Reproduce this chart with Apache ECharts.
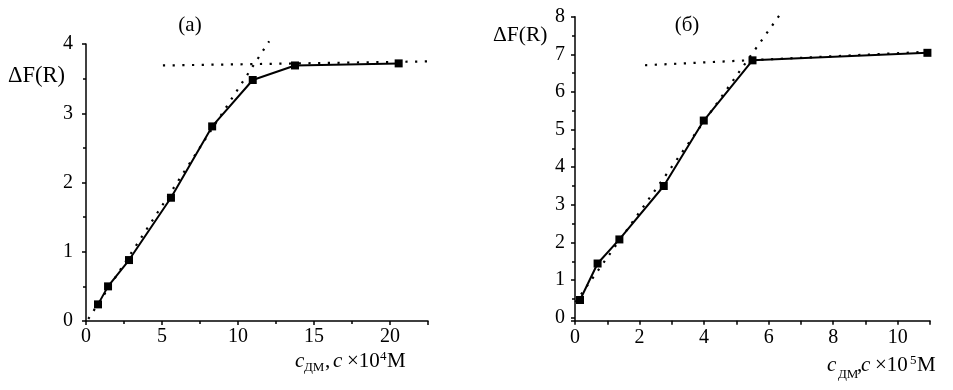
<!DOCTYPE html>
<html>
<head>
<meta charset="utf-8">
<script src="https://cdn.jsdelivr.net/npm/echarts@6/dist/echarts.min.js"></script>
<style>html,body{margin:0;padding:0;background:#fff}#c{width:953px;height:390px}</style>
</head>
<body>
<div id="c"></div>
<script>
// Panel (a)
var xA = [0.79, 1.45, 2.83, 5.59, 8.30, 10.97, 13.75, 20.57];
var yA = [0.24, 0.50, 0.88, 1.78, 2.81, 3.48, 3.69, 3.72];
var fitA1 = [[0.15, 0.03], [12.05, 4.04]];
var fitA2 = [[5.06, 3.69], [22.85, 3.75]];
// Panel (б)
var xB = [0.155, 0.70, 1.375, 2.75, 3.99, 5.50, 10.92];
var yB = [0.47, 1.44, 2.08, 3.50, 5.24, 6.84, 7.04];
var fitB1 = [[-0.16, 0.20], [6.42, 8.14]];
var fitB2 = [[2.17, 6.71], [11.22, 7.08]];
// Axis ranges / ticks
var axA = {xmin: 0, xmax: 22.5, xstep: 5, ymin: 0, ymax: 4, ystep: 1};
var axB = {xmin: 0, xmax: 11, xstep: 1, ymin: -0.08, ymax: 8};
var titles = ['(a)', '(б)'];
var yName = 'ΔF(R)';
var xNameA = ['c', 'ДМ', ',', 'c', '×10', '4', 'M'];
var xNameB = ['c', 'ДМ', ',', 'c', '×10', '5', 'M'];

var FONT = 'Liberation Serif, DejaVu Serif, serif';
function zip(xs, ys) { return xs.map(function (x, i) { return [x, ys[i]]; }); }

var axisLine = {show: true, onZero: false, lineStyle: {color: '#000', width: 1.5}};
var tick = {show: true, inside: false, length: 4, lineStyle: {color: '#000', width: 1.5}};
var minor = {show: true, splitNumber: 2, length: 3, lineStyle: {color: '#000', width: 1.5}};

var dataStyle = {type: 'line', symbol: 'rect', symbolSize: 8, clip: false,
  itemStyle: {color: '#000'}, lineStyle: {color: '#000', width: 2}, z: 3, animation: false};
var dotStyle = {type: 'line', symbol: 'none', clip: false,
  lineStyle: {color: '#000', width: 2.2, type: [2.2, 7.5], cap: 'butt'}, z: 2, animation: false};

// Pieces of the axis-name text: [x, yMiddle, size, italic]
var layA = [[295, 361, 21, 1], [304, 367.5, 13, 0], [325, 361, 21, 0], [333, 361, 21, 1], [347, 361, 21, 0], [380, 356.5, 13, 0], [387, 361, 21, 0]];
var layB = [[827, 365, 21, 1], [838, 375, 13, 0], [857, 365, 21, 0], [861, 365, 21, 1], [875, 365, 21, 0], [910, 360.5, 13, 0], [917, 365, 21, 0]];
function pieces(words, lay) {
  return words.map(function (w, i) {
    var l = lay[i];
    return {type: 'text', x: l[0], y: l[1], silent: true,
      style: {text: w, fontFamily: FONT, fontSize: l[2], fontStyle: l[3] ? 'italic' : 'normal', fill: '#000', align: 'left', verticalAlign: 'middle'}};
  });
}
function txt(x, y, s, align, size) {
  return {type: 'text', x: x, y: y, silent: true,
    style: {text: s, fontFamily: FONT, fontSize: size, fill: '#000', align: align, verticalAlign: 'middle'}};
}

var chart = echarts.init(document.getElementById('c'), null, {renderer: 'canvas', width: 953, height: 390});
chart.setOption({
  backgroundColor: '#fff',
  animation: false,
  textStyle: {fontFamily: FONT},
  grid: [
    {left: 86, top: 44, width: 342, height: 277, containLabel: false},
    {left: 575, top: 16.7, width: 355, height: 304, containLabel: false}
  ],
  xAxis: [
    {gridIndex: 0, type: 'value', min: axA.xmin, max: axA.xmax, interval: axA.xstep,
      axisLine: axisLine, axisTick: tick, minorTick: minor, splitLine: {show: false},
      axisLabel: {color: '#000', fontFamily: FONT, fontSize: 20, margin: 6, showMaxLabel: false}},
    {gridIndex: 1, type: 'value', min: axB.xmin, max: axB.xmax, interval: axB.xstep,
      axisLine: axisLine, axisTick: tick, splitLine: {show: false},
      axisLabel: {color: '#000', fontFamily: FONT, fontSize: 20, margin: 7,
        formatter: function (v) { return (Math.round(v) % 2 === 0 && v < 11) ? String(v) : ''; }}}
  ],
  yAxis: [
    {gridIndex: 0, type: 'value', min: axA.ymin, max: axA.ymax, interval: axA.ystep,
      axisLine: axisLine, axisTick: tick, minorTick: minor, splitLine: {show: false},
      axisLabel: {color: '#000', fontFamily: FONT, fontSize: 20, margin: 13, padding: [3, 0, 0, 0]}},
    {gridIndex: 1, type: 'value', min: axB.ymin, max: axB.ymax, splitNumber: 8,
      axisLine: axisLine, axisTick: tick, minorTick: minor, splitLine: {show: false},
      axisLabel: {color: '#000', fontFamily: FONT, fontSize: 20, margin: 10, padding: [3, 0, 0, 0],
        formatter: function (v) { return v < 0 ? '' : String(Math.round(v)); }}}
  ],
  graphic: [
    txt(190, 25, titles[0], 'center', 21),
    txt(687, 25, titles[1], 'center', 21),
    txt(8, 76, yName, 'left', 22.5),
    txt(493, 35, yName, 'left', 21.5)
  ].concat(pieces(xNameA, layA)).concat(pieces(xNameB, layB)),
  series: [
    Object.assign({xAxisIndex: 0, yAxisIndex: 0, data: fitA1}, dotStyle),
    Object.assign({xAxisIndex: 0, yAxisIndex: 0, data: fitA2}, dotStyle),
    Object.assign({xAxisIndex: 0, yAxisIndex: 0, data: zip(xA, yA)}, dataStyle),
    Object.assign({xAxisIndex: 1, yAxisIndex: 1, data: fitB1}, dotStyle),
    Object.assign({xAxisIndex: 1, yAxisIndex: 1, data: fitB2}, dotStyle),
    Object.assign({xAxisIndex: 1, yAxisIndex: 1, data: zip(xB, yB)}, dataStyle)
  ]
});
</script>
</body>
</html>
